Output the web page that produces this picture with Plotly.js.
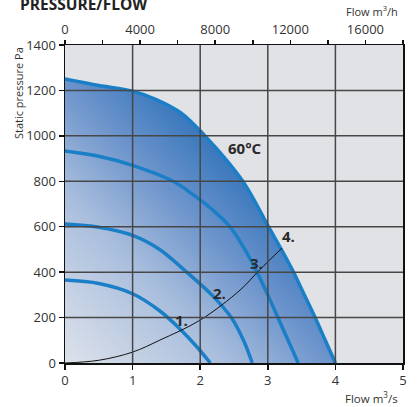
<!DOCTYPE html>
<html>
<head>
<meta charset="utf-8">
<script src="https://cdn.plot.ly/plotly-3.0.1.min.js"></script>
<style>html,body{margin:0;padding:0;background:#fff;}#chart{width:419px;height:407px;}</style>
</head>
<body>
<div id="chart"></div>
<script>
// ---- data ----
var flow60 = [0, 0.5, 1.0, 1.35, 1.72, 2.07, 2.37, 2.63, 2.83, 3.01, 3.2, 3.38, 3.54, 3.7, 3.85, 4.0];
var pres60 = [1250, 1222, 1197, 1160, 1100, 1000, 900, 800, 700, 600, 500, 400, 300, 200, 100, 0];

var flow3 = [0, 0.5, 1.0, 1.6, 1.9, 2.2, 2.44, 2.66, 2.84, 3.0, 3.15, 3.3, 3.45];
var pres3 = [933, 910, 870, 800, 740, 670, 600, 500, 400, 300, 200, 100, 0];

var flow2 = [0, 0.5, 1.0, 1.4, 1.8, 2.17, 2.46, 2.64, 2.77];
var pres2 = [612, 598, 562, 500, 400, 300, 200, 100, 0];

var flow1 = [0, 0.5, 1.0, 1.4, 1.7, 1.94, 2.15];
var pres1 = [365, 350, 305, 230, 150, 75, 0];

var flowSys = [0, 0.5, 1.0, 1.405, 2.0, 2.59, 2.88, 3.21];
var presSys = [0, 12, 48, 101, 189, 321, 410, 506];

var xTicks = [0, 1, 2, 3, 4, 5];
var yTicks = [0, 200, 400, 600, 800, 1000, 1200, 1400];
var x2Ticks = [0, 4000, 8000, 12000, 16000];
var x2Labels = ['0', '4000', '8000', '12000', '16000'];
var m3hPerM3s = 3600;

var curveLabels = ['1.', '2.', '3.', '4.', '60°C'];
var labelX = [1.73, 2.29, 2.84, 3.31, 2.66];
var labelY = [189, 308, 440, 559, 947];

// ---- styles ----
var blue = '#1b7fc7';
var font = 'Open Sans, Noto Sans, sans-serif';
var fillStops = [[0, '#dde2ea'], [0.3, '#a9bedd'], [0.5, '#6b93cb'], [0.68, '#3274ba'], [1, '#1f65b0']];

var lineStyle = {color: blue, width: 3.5, shape: 'spline', smoothing: 1.0};

var data = [
  {x: flow60, y: pres60, mode: 'lines', fill: 'tozeroy',
   fillgradient: {type: 'horizontal', colorscale: fillStops},
   line: lineStyle, hoverinfo: 'skip'},
  {x: flow3, y: pres3, mode: 'lines', line: lineStyle, hoverinfo: 'skip'},
  {x: flow2, y: pres2, mode: 'lines', line: lineStyle, hoverinfo: 'skip'},
  {x: flow1, y: pres1, mode: 'lines', line: lineStyle, hoverinfo: 'skip'},
  {x: flowSys, y: presSys, mode: 'lines', line: {color: '#111', width: 1, shape: 'spline', smoothing: 1.0}, hoverinfo: 'skip'},
  {x: flow60.map(function(v){return v * m3hPerM3s;}), y: pres60, xaxis: 'x2', mode: 'lines',
   line: {width: 0}, opacity: 0, hoverinfo: 'skip'}
];

var shapes = [];
xTicks.slice(1, -1).forEach(function(v){
  shapes.push({type: 'line', layer: 'above', xref: 'x', yref: 'paper', x0: v, x1: v, y0: 0, y1: 1,
               line: {color: '#474747', width: 1.5}});
});
yTicks.slice(1, -1).forEach(function(v){
  shapes.push({type: 'line', layer: 'above', xref: 'paper', yref: 'y', x0: 0, x1: 1, y0: v, y1: v,
               line: {color: '#474747', width: 1.5}});
});

var annotations = curveLabels.map(function(t, i){
  return {x: labelX[i], y: labelY[i], xref: 'x', yref: 'y', text: '<b>' + t + '</b>', showarrow: false,
          font: {family: font, size: 15, color: '#2a2a2a'}};
});
annotations.push({xref: 'paper', yref: 'paper', x: -0.139, y: 1.0, xanchor: 'center', yanchor: 'top',
  textangle: -90, text: 'Static pressure Pa', showarrow: false, font: {family: font, size: 11, color: '#333'}});
annotations.push({xref: 'paper', yref: 'paper', x: 0.991, y: 1.108, xanchor: 'right', yanchor: 'middle',
  text: 'Flow m<sup>3</sup>/h', showarrow: false, font: {family: font, size: 11, color: '#333'}});
annotations.push({xref: 'paper', yref: 'paper', x: 0.991, y: -0.108, xanchor: 'right', yanchor: 'middle',
  text: 'Flow m<sup>3</sup>/s', showarrow: false, font: {family: font, size: 11.5, color: '#333'}});
annotations.push({xref: 'paper', yref: 'paper', x: -0.139, y: 1.128, xanchor: 'left', yanchor: 'middle',
  text: '<b>PRESSURE/FLOW</b>', showarrow: false, font: {family: font, size: 15.5, color: '#222'}});

var layout = {
  width: 419, height: 407,
  margin: {l: 65, r: 16, t: 45, b: 44},
  paper_bgcolor: '#ffffff', plot_bgcolor: '#e1e2e6',
  showlegend: false,
  font: {family: font, size: 13, color: '#333'},
  xaxis: {range: [0, 5], tickvals: xTicks, ticks: 'outside', ticklen: 5, tickwidth: 1.5, tickcolor: '#111',
          showline: true, linecolor: '#111', linewidth: 1.5, mirror: true, showgrid: false, zeroline: false,
          tickfont: {family: font, size: 13, color: '#333'}, fixedrange: true},
  xaxis2: {range: [0, 18000], overlaying: 'x', side: 'top', anchor: 'y', tickvals: x2Ticks, ticktext: x2Labels,
           ticks: 'outside', ticklen: 4, tickwidth: 1.5, tickcolor: '#111',
           minor: {dtick: 2000, ticks: 'outside', ticklen: 4, tickwidth: 1.5, tickcolor: '#111'},
           showline: true, linecolor: '#111', linewidth: 1.5, showgrid: false, zeroline: false,
           tickfont: {family: font, size: 13, color: '#333'}, fixedrange: true},
  yaxis: {range: [0, 1400], tickvals: yTicks, ticks: 'outside', ticklen: 5, tickwidth: 1.5, tickcolor: '#111',
          showline: true, linecolor: '#111', linewidth: 1.5, mirror: true, showgrid: false, zeroline: false,
          tickfont: {family: font, size: 13, color: '#333'}, fixedrange: true},
  shapes: shapes,
  annotations: annotations
};

var SVGNS = 'http://www.w3.org/2000/svg';
function diagonalGradient() {
  var gd = document.getElementById('chart');
  var grads = gd.querySelectorAll('linearGradient');
  for (var i = 0; i < grads.length; i++) {
    var g = grads[i];
    g.setAttribute('gradientUnits', 'objectBoundingBox');
    g.removeAttribute('gradientTransform');
    g.setAttribute('x1', '0'); g.setAttribute('y1', '1');
    g.setAttribute('x2', '1'); g.setAttribute('y2', '0');
    while (g.firstChild) g.removeChild(g.firstChild);
    fillStops.forEach(function(s){
      var st = document.createElementNS(SVGNS, 'stop');
      st.setAttribute('offset', (s[0] * 100) + '%');
      st.setAttribute('stop-color', s[1]);
      st.setAttribute('stop-opacity', '1');
      g.appendChild(st);
    });
  }
}

Plotly.newPlot('chart', data, layout, {displayModeBar: false, staticPlot: true}).then(function(gd){
  diagonalGradient();
  gd.on('plotly_afterplot', diagonalGradient);
  setTimeout(diagonalGradient, 50);
  setTimeout(diagonalGradient, 300);
});
</script>
</body>
</html>
